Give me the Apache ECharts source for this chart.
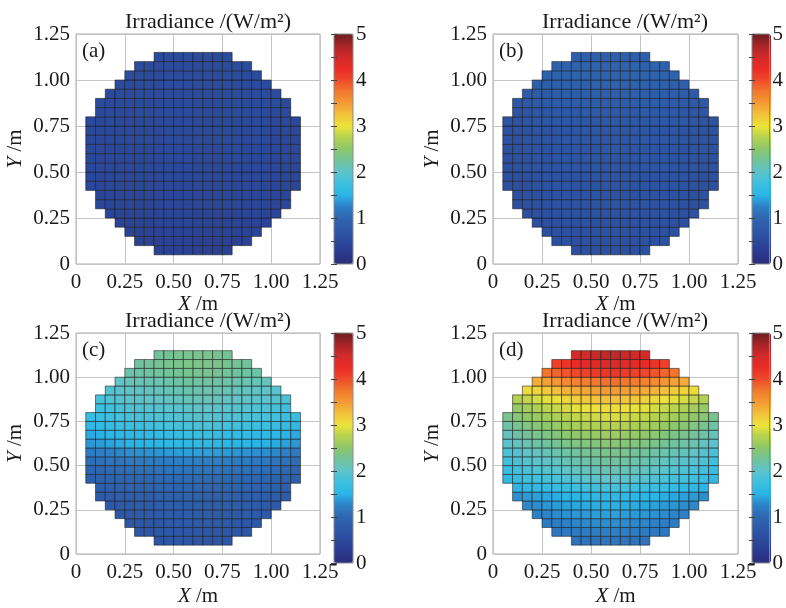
<!DOCTYPE html>
<html>
<head>
<meta charset="utf-8">
<script src="https://cdn.jsdelivr.net/npm/echarts@6/dist/echarts.min.js"></script>
<style>
  html, body { margin: 0; padding: 0; background: #fff; }
  #chart { width: 786px; height: 608px; }
</style>
</head>
<body>
<div id="chart"></div>
<script>
// cell grid: 22 x 22 cells of 0.05 m, starting at 0.05 m
const CELL = 0.05
const ORIGIN = 0.05
// first / last column index of each row (row 0 = y 0.05..0.10, bottom)
const rowFirst = [7, 5, 4, 3, 2, 1, 1, 0, 0, 0, 0, 0, 0, 0, 0, 1, 1, 2, 3, 4, 5, 7]
const rowLast  = [14, 16, 17, 18, 19, 20, 20, 21, 21, 21, 21, 21, 21, 21, 21, 20, 20, 19, 18, 17, 16, 14]

// centre-column irradiance per row, bottom -> top (W/m2)
const rowA = [0.36, 0.38, 0.40, 0.42, 0.44, 0.45, 0.46, 0.47, 0.48, 0.49, 0.50, 0.50, 0.51, 0.51, 0.52, 0.52, 0.53, 0.53, 0.54, 0.54, 0.53, 0.51]
const rowB = [0.62, 0.63, 0.64, 0.65, 0.66, 0.67, 0.68, 0.69, 0.70, 0.71, 0.72, 0.73, 0.74, 0.75, 0.77, 0.80, 0.84, 0.88, 0.93, 0.97, 0.95, 0.88]
const rowC = [0.72, 0.75, 0.78, 0.82, 0.86, 0.92, 0.98, 1.05, 1.15, 1.25, 1.40, 1.58, 1.68, 1.85, 1.95, 2.00, 2.10, 2.15, 2.22, 2.30, 2.35, 2.32]
const rowD = [1.15, 1.25, 1.32, 1.40, 1.48, 1.58, 1.80, 2.00, 2.12, 2.22, 2.32, 2.45, 2.60, 2.75, 2.90, 3.05, 3.25, 3.50, 3.80, 4.15, 4.40, 4.60]

// fall-off towards the left / right rim, per column (fraction of centre value)
const colA = [0.93, 0.94, 0.95, 0.96, 0.97, 0.98, 0.98, 0.99, 1, 1, 1, 1, 1, 1, 1, 0.99, 0.98, 0.98, 0.97, 0.96, 0.95, 0.93]
const colB = [0.86, 0.88, 0.90, 0.92, 0.94, 0.95, 0.96, 0.97, 0.98, 0.99, 1, 1, 1, 0.99, 0.98, 0.97, 0.96, 0.95, 0.94, 0.92, 0.90, 0.87]
const colC = [0.86, 0.88, 0.90, 0.92, 0.94, 0.95, 0.96, 0.97, 0.98, 0.99, 1, 1, 1, 0.99, 0.98, 0.97, 0.96, 0.95, 0.94, 0.92, 0.89, 0.86]
const colD = [0.80, 0.84, 0.87, 0.89, 0.91, 0.93, 0.95, 0.97, 0.98, 0.99, 1, 1, 0.99, 0.98, 0.97, 0.95, 0.93, 0.91, 0.89, 0.87, 0.84, 0.80]

const panelLabels = ['(a)', '(b)', '(c)', '(d)']
const tickLabels = ['0', '0.25', '0.50', '0.75', '1.00', '1.25']
const barLabels = ['0', '1', '2', '3', '4', '5']

const jet = ['#2b2d7c', '#2b3a8e', '#2b4a9d', '#2d58a8', '#2e66b0', '#2d80c6', '#2ab5e7', '#3cc0e0',
             '#5ec3cb', '#72c39b', '#8cc76b', '#b4d24f', '#ece33a', '#f3c13b', '#f49a35', '#f27a2d',
             '#ee4a2a', '#ea2b27', '#d22a28', '#a72428', '#6b1e20']

const FONT = 'Liberation Serif'
const INK = '#1a1a1a'

const buildCells = (rows, cols) => {
    let cells = []
    rows.map((v, r) => {
        for (let c = rowFirst[r]; c <= rowLast[r]; c++) {
            cells.push([ORIGIN + c * CELL, ORIGIN + r * CELL, +(v * cols[c]).toFixed(3)])
        }
    })
    return cells
}

const panels = [
    {rows: rowA, cols: colA, left: 76, top: 34, width: 244, bar: 334, xGap: 29},
    {rows: rowB, cols: colB, left: 493, top: 34, width: 245, bar: 752, xGap: 29},
    {rows: rowC, cols: colC, left: 76, top: 333, width: 244, bar: 334, xGap: 32},
    {rows: rowD, cols: colD, left: 493, top: 333, width: 245, bar: 752, xGap: 32}
]
const H = 230

let grid = [], xAxis = [], yAxis = [], series = [], visualMap = [], title = []

const nameStyle = {
    fontFamily: FONT, fontSize: 21, color: INK,
    rich: {i: {fontStyle: 'italic', fontFamily: FONT, fontSize: 21, color: INK}}
}
const tickFmt = v => tickLabels[Math.round(v / 0.25)]

panels.map((p, i) => {
    // heat map
    const g = grid.length
    grid.push({left: p.left, top: p.top, width: p.width, height: H, show: true, borderColor: '#a8a8a8', borderWidth: 1})
    const xi = xAxis.length
    xAxis.push({
        type: 'value', gridIndex: g, min: 0, max: 1.25, interval: 0.25,
        name: '{i|X} /m', nameLocation: 'middle', nameGap: p.xGap, nameTextStyle: nameStyle,
        axisLine: {show: false}, axisTick: {show: false},
        axisLabel: {formatter: tickFmt, fontFamily: FONT, fontSize: 21, color: INK, margin: 8},
        splitLine: {show: true, lineStyle: {color: '#c4c4c4', width: 1}}
    })
    const yi = yAxis.length
    yAxis.push({
        type: 'value', gridIndex: g, min: 0, max: 1.25, interval: 0.25,
        name: '{i|Y} /m', nameLocation: 'middle', nameGap: 50, nameTextStyle: nameStyle,
        axisLine: {show: false}, axisTick: {show: false},
        axisLabel: {formatter: tickFmt, fontFamily: FONT, fontSize: 21, color: INK, margin: 6},
        splitLine: {show: true, lineStyle: {color: '#c4c4c4', width: 1}}
    })
    series.push({
        type: 'custom', xAxisIndex: xi, yAxisIndex: yi,
        encode: {x: 0, y: 1},
        data: buildCells(p.rows, p.cols),
        renderItem: (params, api) => {
            const a = api.coord([api.value(0), api.value(1) + CELL])
            const b = api.coord([api.value(0) + CELL, api.value(1)])
            return {
                type: 'rect',
                shape: {x: a[0], y: a[1], width: b[0] - a[0], height: b[1] - a[1]},
                style: {fill: api.visual('color'), stroke: 'rgba(25,25,25,0.8)', lineWidth: 0.7}
            }
        }
    })
    visualMap.push({
        type: 'continuous', seriesIndex: i, dimension: 2, min: 0, max: 5,
        inRange: {color: jet}, calculable: false, realtime: false,
        left: p.bar, top: p.top, itemWidth: 19, itemHeight: H, padding: 0, z: 1
    })

    // colour bar frame, labels and ticks (0.5 steps, both sides)
    const cg = grid.length
    grid.push({left: p.bar, top: p.top, width: 19, height: H, show: true, borderColor: '#8a8a8a', borderWidth: 1, backgroundColor: 'transparent', z: 6})
    xAxis.push({type: 'value', gridIndex: cg, min: 0, max: 1, show: false})
    const barTick = {show: true, inside: true, length: 3, lineStyle: {color: '#444', width: 1}}
    yAxis.push({
        type: 'value', gridIndex: cg, min: 0, max: 5, interval: 0.5, position: 'right', z: 10,
        axisLine: {show: false}, axisTick: barTick,
        axisLabel: {formatter: v => Number.isInteger(v) ? barLabels[v] : '', fontFamily: FONT, fontSize: 21, color: INK, margin: 3},
        splitLine: {show: false}
    })
    yAxis.push({
        type: 'value', gridIndex: cg, min: 0, max: 5, interval: 0.5, position: 'left', z: 10,
        axisLine: {show: false}, axisTick: barTick, axisLabel: {show: false},
        splitLine: {show: false}
    })

    title.push({
        text: 'Irradiance /(W/m²)', left: p.left + 127, top: p.top - 28, textAlign: 'center',
        textStyle: {fontFamily: FONT, fontSize: 22, fontWeight: 'normal', color: INK}
    })
    title.push({
        text: panelLabels[i], left: p.left + 1, top: p.top + 2,
        textStyle: {fontFamily: FONT, fontSize: 21, fontWeight: 'normal', color: INK}
    })
})

const chart = echarts.init(document.getElementById('chart'))
chart.setOption({
    animation: false,
    backgroundColor: '#fff',
    title: title,
    grid: grid,
    xAxis: xAxis,
    yAxis: yAxis,
    visualMap: visualMap,
    series: series
})
</script>
</body>
</html>
